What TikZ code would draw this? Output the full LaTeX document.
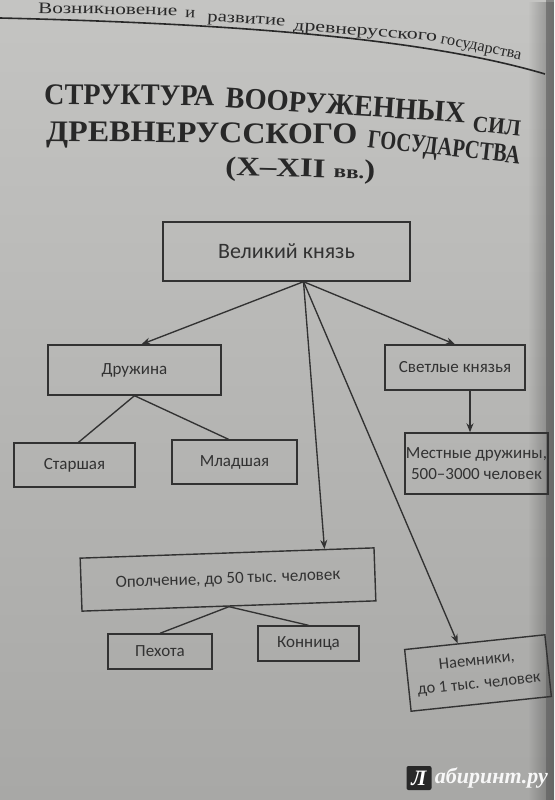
\documentclass[tikz,border=0pt]{standalone}
\usepackage{fontspec}
\usepackage{graphicx}
\setmainfont{Liberation Serif}
\newfontfamily\boxfont{Carlito}
\newfontfamily\wmfont{Liberation Serif}
\usetikzlibrary{arrows.meta,calc,fadings}
\definecolor{bgtop}{RGB}{196,196,194}
\definecolor{bgbot}{RGB}{168,168,166}
\definecolor{ink}{RGB}{40,40,40}
\definecolor{boxink}{RGB}{50,50,50}
\newcommand\fitw[2]{\resizebox{#1}{\height}{#2}}
\begin{document}
\begin{tikzpicture}[x=1pt,y=-1pt,
  box/.style={draw=boxink, line width=1.4pt, inner sep=0pt, text=boxink,
    font=\boxfont\fontsize{17}{21}\selectfont, align=center},
  conn/.style={draw=boxink, line width=1.35pt},
  arr/.style={conn, -{Stealth[length=9pt,width=7pt]}},
  hdr/.style={anchor=base west, inner sep=0pt, text=ink, font=\fontsize{16}{18}\selectfont},
  ttl/.style={anchor=base west, inner sep=0pt, text=ink, font=\bfseries\fontsize{30}{32}\selectfont}]
\useasboundingbox (0,0) rectangle (554,800);
\shade[top color=bgtop, bottom color=bgbot] (0,0) rectangle (554,800);
\fill[black, opacity=0.3, path fading=west] (528,0) rectangle (554,800);
\fill[gray!70!black, opacity=0.55] (546,0) rectangle (554,800);

% running head
\node[hdr, rotate=-1] (h1) at (38,13) {\fitw{139pt}{Возникновение}};
\node[hdr, rotate=-2] (h2) at (185,17) {\fitw{10pt}{и}};
\node[hdr, rotate=-3.5] (h3) at (207,21) {\fitw{78pt}{развитие}};
\node[hdr, rotate=-4.4] (h4) at (293,30) {\fitw{144pt}{древнерусского}};
\node[hdr, rotate=-11.7] (h5) at (440,43) {\fitw{82pt}{государства}};
\draw[ink, line width=1.6pt] (0,18) .. controls (250,24) and (430,40) .. (545,74);

% title
\node[ttl, rotate=-0.5] (t1) at (44,104) {\fitw{170pt}{СТРУКТУРА}};
\node[ttl, rotate=-3.8] (t2) at (225,107) {\fitw{240pt}{ВООРУЖЕННЫХ}};
\node[ttl, rotate=-6, font=\bfseries\fontsize{23}{25}\selectfont] (t3) at (472,131) {\fitw{48pt}{СИЛ}};
\node[ttl, rotate=-0.6] (t4) at (46,141) {\fitw{311pt}{ДРЕВНЕРУССКОГО}};
\node[ttl, rotate=-6.3, font=\bfseries\fontsize{26}{28}\selectfont] (t5) at (367,147) {\fitw{153pt}{ГОСУДАРСТВА}};
\node[ttl, rotate=-1.5, font=\bfseries\fontsize{27}{29}\selectfont] (t6) at (225,175) {\fitw{150pt}{(X–XII {\fontsize{19}{21}\selectfont вв.})}};

% boxes
\node[box, minimum width=247pt, minimum height=59pt, font=\boxfont\fontsize{22}{26}\selectfont] (vk) at (286.5,251.5) {Великий князь};
\node[box, minimum width=173pt, minimum height=50pt] (dr) at (134.5,370) {Дружина};
\node[box, minimum width=121pt, minimum height=44pt] (st) at (74.5,465) {Старшая};
\node[box, minimum width=125pt, minimum height=44pt] (ml) at (234.5,462) {Младшая};
\node[box, minimum width=140pt, minimum height=45pt] (sk) at (455,367.5) {Светлые князья};
\node[box, minimum width=143pt, minimum height=61pt] (mk) at (476.5,463.5) {Местные дружины,\\500–3000 человек};
\node[box, minimum width=294pt, minimum height=53pt, rotate=2] (op) at (228,579.5) {Ополчение, до 50 тыс. человек};
\node[box, minimum width=104pt, minimum height=35pt] (pe) at (160,651.5) {Пехота};
\node[box, minimum width=101pt, minimum height=35pt] (ko) at (308.5,643.5) {Конница};
\node[box, minimum width=141pt, minimum height=62pt, rotate=6, font=\boxfont\fontsize{16.5}{23}\selectfont] (nm) at (478,673) {Наемники,\\до 1 тыс. человек};

% connectors
\coordinate (o) at ([xshift=17pt]vk.south);
\draw[arr] (o) -- ([xshift=7pt]dr.north);
\draw[arr] (o) -- (sk.north);
\draw[arr] (o) -- ($(op.north west)!0.83!(op.north east)$);
\draw[arr] (o) -- ($(nm.north west)!0.38!(nm.north east)$);
\draw[arr] ([xshift=15pt]sk.south) -- ([xshift=15pt]sk.south |- mk.north);
\draw[conn] (dr.south) -- ([xshift=4pt]st.north);
\draw[conn] (dr.south) -- ([xshift=-6pt]ml.north);
\draw[conn] (op.south) -- (pe.north);
\draw[conn] (op.south) -- (ko.north);

% watermark
\node[fill=ink, rounded corners=2pt, minimum width=25pt, minimum height=24pt, inner sep=0pt,
  text=white, font=\wmfont\bfseries\itshape\fontsize{22}{24}\selectfont] (wl) at (419,778) {Л};
\node[anchor=west, inner sep=0pt, xshift=3pt, text=white!94!gray,
  font=\wmfont\bfseries\itshape\fontsize{22}{24}\selectfont] (wt) at (wl.east) {абиринт.ру};
\end{tikzpicture}
\end{document}
